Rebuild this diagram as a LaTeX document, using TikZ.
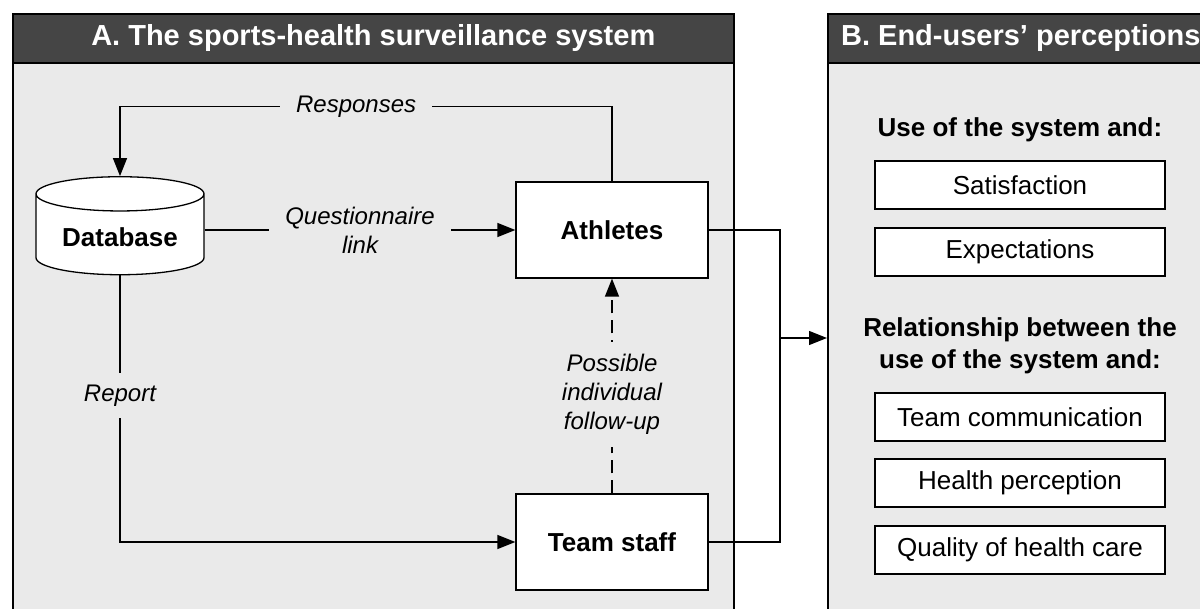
\documentclass[tikz,border=0pt]{standalone}
\usepackage{fontspec}
\setmainfont{Liberation Sans}
\usetikzlibrary{arrows.meta,shapes.geometric}

\definecolor{panelgray}{HTML}{EAEAEA}
\definecolor{headgray}{HTML}{454545}

\tikzset{
	panel/.style={draw, fill=panelgray, line width=1.6pt, anchor=north west, inner sep=0pt},
	header/.style={draw, fill=headgray, line width=1.6pt, anchor=north west, text=white, minimum height=49pt, font=\fontsize{29}{34}\selectfont\bfseries},
	box/.style={draw, fill=white, line width=1.3pt, minimum width=192pt, minimum height=96pt, font=\fontsize{26}{30}\selectfont\bfseries},
	dbase/.style={cylinder, shape border rotate=90, draw, fill=white, line width=1.3pt, minimum width=168pt, minimum height=98pt, aspect=0.28, font=\fontsize{26}{30}\selectfont\bfseries},
	item/.style={draw, fill=white, line width=1.3pt, minimum width=290pt, minimum height=48pt, font=\fontsize{26}{30}\selectfont},
	heading/.style={align=center, font=\fontsize{26}{32}\selectfont\bfseries},
	lbl/.style={fill=panelgray, align=center, inner xsep=16pt, inner ysep=12pt, font=\fontsize{24}{29}\selectfont\itshape},
	conn/.style={line width=1.3pt},
	arr/.style={-{Triangle[length=18pt,width=14pt]}},
}

\begin{document}
\begin{tikzpicture}[x=1pt, y=-1pt]
	\clip (0,0) rectangle (1200,609);

	% panels
	\node[panel, minimum width=721pt, minimum height=640pt] (pa) at (12,13) {};
	\node[header, minimum width=721pt] (ha) at (pa.north west) {A. The sports-health surveillance system};
	\node[panel, minimum width=386pt, minimum height=640pt] (pb) at (827,13) {};
	\node[header, minimum width=386pt] (hb) at (pb.north west) {B. End-users’ perceptions};

	% system
	\node[dbase] (db) at (120,237) {Database};
	\node[box] (ath) at (612,230) {Athletes};
	\node[box] (staff) at (612,542) {Team staff};
	\coordinate (join) at (780,338);

	\draw[conn, arr] (ath.north) -- ++(0,-75) -| node[lbl, pos=0.26] {Responses} (db.north);
	\draw[conn, arr] (ath.west -| db.east) -- node[lbl] {Questionnaire\\link} (ath.west);
	\draw[conn, arr] (db.south) |- node[lbl, pos=0.225] {Report} (staff.west);
	\draw[conn, arr, dash pattern=on 13pt off 7pt] (staff.north) -- node[lbl, pos=0.46] {Possible\\individual\\follow-up} (ath.south);
	\draw[conn] (ath.east) -| (join);
	\draw[conn] (staff.east) -| (join);
	\draw[conn, arr] (join) -- (join -| pb.west);

	% perceptions
	\node[heading] (use) at (1020,130) {Use of the system and:};
	\node[item] (sat) at (1020,185) {Satisfaction};
	\node[item] (expect) at (1020,252) {Expectations};
	\node[heading] (rel) at (1020,346) {Relationship between the\\use of the system and:};
	\node[item] (comm) at (1020,417) {Team communication};
	\node[item] (hp) at (1020,483) {Health perception};
	\node[item] (qual) at (1020,550) {Quality of health care};
\end{tikzpicture}
\end{document}
